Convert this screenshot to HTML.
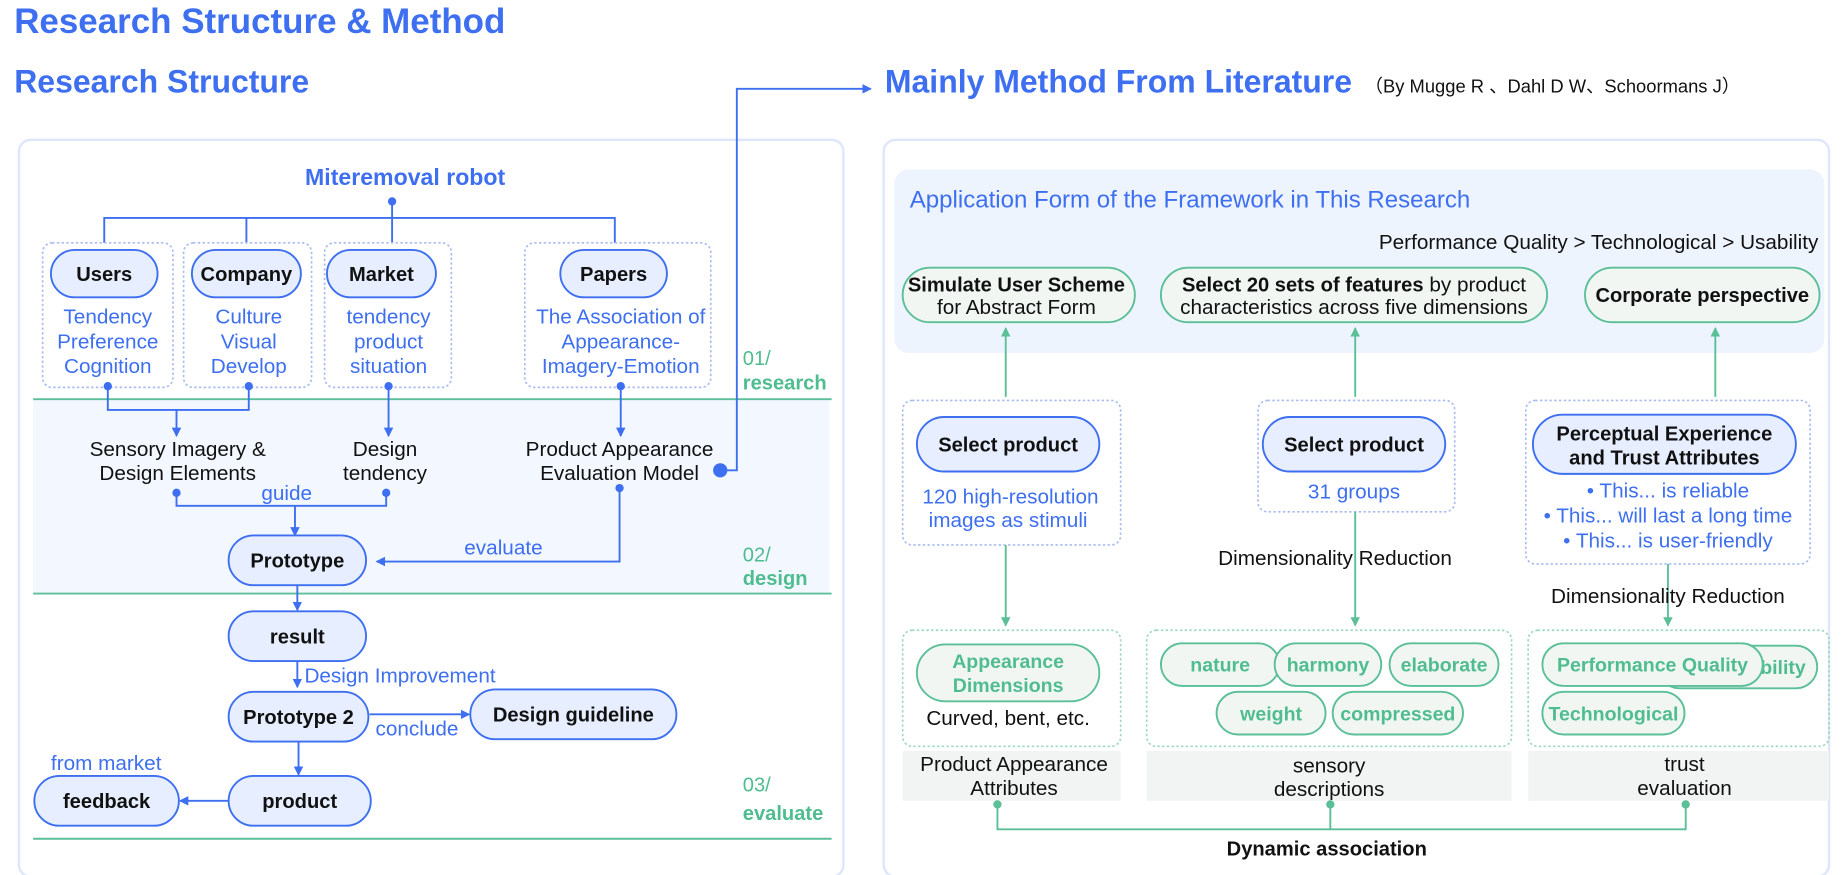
<!DOCTYPE html>
<html><head><meta charset="utf-8"><style>
html,body{margin:0;padding:0;background:#fff;}
svg{display:block;font-family:"Liberation Sans",sans-serif;}
.b{fill:#3d6ff0}.k{fill:#111}.g{fill:#4fbd8f}
.pb{fill:#e6eeff;stroke:#3d6ff0;stroke-width:1.6}
.pg{fill:#f1f6f3;stroke:#5bbf98;stroke-width:1.6}
.db{fill:none;stroke:#a9bcf2;stroke-width:1.4;stroke-dasharray:2 2}
.dg{fill:none;stroke:#9fd8c0;stroke-width:1.4;stroke-dasharray:2 2}
.lb{stroke:#3d6ff0;stroke-width:1.6;fill:none}
.lg{stroke:#5bbf98;stroke-width:1.6;fill:none}
</style></head><body>
<svg width="1848" height="875" viewBox="0 0 1560 738.6" preserveAspectRatio="none">
<defs>
<marker id="ab" markerWidth="8" markerHeight="8" refX="7" refY="4" orient="auto" markerUnits="userSpaceOnUse"><path d="M0,0 L8,4 L0,8 z" fill="#3d6ff0"/></marker>
<marker id="ag" markerWidth="8" markerHeight="8" refX="7" refY="4" orient="auto" markerUnits="userSpaceOnUse"><path d="M0,0 L8,4 L0,8 z" fill="#5bbf98"/></marker>
</defs>
<text x="12" y="28" class="b" font-size="29.5" font-weight="bold">Research Structure &amp; Method</text>
<text x="12" y="78" class="b" font-size="27" font-weight="bold">Research Structure</text>
<text x="747" y="78" class="b" font-size="27" font-weight="bold">Mainly Method From Literature</text>
<text x="1152" y="78" class="k" font-size="15.5">（By Mugge R 、Dahl D W、Schoormans J）</text>

<rect x="16" y="118" width="696" height="622" rx="10" fill="#fff" stroke="#dde6fa" stroke-width="2"/>
<rect x="746" y="118" width="798" height="622" rx="10" fill="#fff" stroke="#dde6fa" stroke-width="2"/>

<!-- left -->
<text x="342" y="156" text-anchor="middle" class="b" font-size="19.5" font-weight="bold">Miteremoval robot</text>
<circle cx="331" cy="170" r="3.5" fill="#3d6ff0"/>
<path class="lb" d="M331,170 V184 M88,205 V184 H519 V205 M208,184 V205 M331,184 V205"/>
<rect class="db" x="36" y="205" width="110" height="122" rx="8"/>
<rect class="db" x="155" y="205" width="108" height="122" rx="8"/>
<rect class="db" x="274" y="205" width="107" height="122" rx="8"/>
<rect class="db" x="443" y="205" width="157" height="122" rx="8"/>
<g font-size="17" font-weight="bold" text-anchor="middle" class="k">
<rect class="pb" x="43" y="211" width="90" height="40" rx="20"/><text x="88" y="237">Users</text>
<rect class="pb" x="162" y="211" width="92" height="40" rx="20"/><text x="208" y="237">Company</text>
<rect class="pb" x="276" y="211" width="92" height="40" rx="20"/><text x="322" y="237">Market</text>
<rect class="pb" x="473" y="211" width="90" height="40" rx="20"/><text x="518" y="237">Papers</text>
</g>
<g font-size="17.5" text-anchor="middle" class="b">
<text x="91" y="273">Tendency</text><text x="91" y="294">Preference</text><text x="91" y="315">Cognition</text>
<text x="210" y="273">Culture</text><text x="210" y="294">Visual</text><text x="210" y="315">Develop</text>
<text x="328" y="273">tendency</text><text x="328" y="294">product</text><text x="328" y="315">situation</text>
<text x="524" y="273">The Association of</text><text x="524" y="294">Appearance-</text><text x="524" y="315">Imagery-Emotion</text>
</g>
<rect x="28" y="337" width="672" height="163" fill="#f3f7ff"/>
<line x1="28" y1="337" x2="702" y2="337" stroke="#5bbf98" stroke-width="1.6"/>
<line x1="28" y1="501" x2="702" y2="501" stroke="#5bbf98" stroke-width="1.6"/>
<line x1="28" y1="708" x2="702" y2="708" stroke="#5bbf98" stroke-width="1.6"/>
<text x="627" y="308" class="g" font-size="17">01/</text><text x="627" y="329" class="g" font-size="17" font-weight="bold">research</text>
<text x="627" y="474" class="g" font-size="17">02/</text><text x="627" y="494" class="g" font-size="17" font-weight="bold">design</text>
<text x="627" y="668" class="g" font-size="17">03/</text><text x="627" y="692" class="g" font-size="17" font-weight="bold">evaluate</text>
<g fill="#3d6ff0"><circle cx="91" cy="326" r="3.5"/><circle cx="210" cy="326" r="3.5"/><circle cx="328" cy="326" r="3.5"/><circle cx="524" cy="326" r="3.5"/>
<circle cx="149" cy="416" r="3.5"/><circle cx="326" cy="416" r="3.5"/><circle cx="523" cy="412" r="3.5"/><circle cx="608" cy="397" r="6"/></g>
<path class="lb" d="M91,326 V346 H210 V326"/>
<path class="lb" d="M149,346 V368" marker-end="url(#ab)"/>
<path class="lb" d="M328,326 V368" marker-end="url(#ab)"/>
<path class="lb" d="M524,326 V368" marker-end="url(#ab)"/>
<g font-size="17.5" text-anchor="middle" class="k">
<text x="150" y="385">Sensory Imagery &amp;</text><text x="150" y="405">Design Elements</text>
<text x="325" y="385">Design</text><text x="325" y="405">tendency</text>
<text x="523" y="385">Product Appearance</text><text x="523" y="405">Evaluation Model</text>
</g>
<path class="lb" d="M608,397 H622 V75 H735" marker-end="url(#ab)"/>
<path class="lb" d="M149,416 V427 H326 V416"/>
<text x="242" y="422" text-anchor="middle" class="b" font-size="17.5">guide</text>
<path class="lb" d="M249,427 V452" marker-end="url(#ab)"/>
<path class="lb" d="M523,412 V474 H318" marker-end="url(#ab)"/>
<text x="425" y="468" text-anchor="middle" class="b" font-size="17.5">evaluate</text>
<g font-size="17" font-weight="bold" text-anchor="middle" class="k">
<rect class="pb" x="193" y="452" width="116" height="42" rx="21"/><text x="251" y="479">Prototype</text>
<rect class="pb" x="193" y="516" width="116" height="42" rx="21"/><text x="251" y="543">result</text>
<rect class="pb" x="193" y="584" width="118" height="42" rx="21"/><text x="252" y="611">Prototype 2</text>
<rect class="pb" x="397" y="582" width="174" height="42" rx="21"/><text x="484" y="609">Design guideline</text>
<rect class="pb" x="193" y="655" width="120" height="42" rx="21"/><text x="253" y="682">product</text>
<rect class="pb" x="29" y="655" width="122" height="42" rx="21"/><text x="90" y="682">feedback</text>
</g>
<path class="lb" d="M251,494 V515" marker-end="url(#ab)"/>
<path class="lb" d="M251,558 V580" marker-end="url(#ab)"/>
<text x="257" y="576" class="b" font-size="17.5">Design Improvement</text>
<path class="lb" d="M312,603 H396" marker-end="url(#ab)"/>
<text x="352" y="621" text-anchor="middle" class="b" font-size="17.5">conclude</text>
<path class="lb" d="M252,626 V654" marker-end="url(#ab)"/>
<path class="lb" d="M193,676 H152" marker-end="url(#ab)"/>
<text x="43" y="650" class="b" font-size="17.5">from market</text>

<!-- right -->
<rect x="755" y="143" width="785" height="155" rx="12" fill="#eef4fd"/>
<text x="768" y="175" class="b" font-size="20.3">Application Form of the Framework in This Research</text>
<text x="1535" y="210" text-anchor="end" class="k" font-size="17.5">Performance Quality &gt; Technological &gt; Usability</text>
<rect class="pg" x="762" y="226" width="196" height="46" rx="23"/>
<text x="858" y="246" text-anchor="middle" class="k" font-size="17" font-weight="bold">Simulate User Scheme</text>
<text x="858" y="265" text-anchor="middle" class="k" font-size="17.5">for Abstract Form</text>
<rect class="pg" x="980" y="226" width="326" height="46" rx="23"/>
<text x="1143" y="246" text-anchor="middle" class="k" font-size="17.5"><tspan font-weight="bold" font-size="17">Select 20 sets of features</tspan> by product</text>
<text x="1143" y="265" text-anchor="middle" class="k" font-size="17.5">characteristics across five dimensions</text>
<rect class="pg" x="1338" y="226" width="198" height="46" rx="23"/>
<text x="1437" y="255" text-anchor="middle" class="k" font-size="17" font-weight="bold">Corporate perspective</text>
<path class="lg" d="M849,335 V277" marker-end="url(#ag)"/>
<path class="lg" d="M1144,335 V277" marker-end="url(#ag)"/>
<path class="lg" d="M1448,335 V277" marker-end="url(#ag)"/>
<rect class="db" x="762" y="338" width="184" height="122" rx="8"/>
<rect class="db" x="1062" y="338" width="166" height="94" rx="8"/>
<rect class="db" x="1288" y="338" width="240" height="138" rx="8"/>
<rect class="pb" x="774" y="352" width="154" height="46" rx="23"/>
<text x="851" y="381" text-anchor="middle" class="k" font-size="17" font-weight="bold">Select product</text>
<rect class="pb" x="1066" y="352" width="154" height="46" rx="23"/>
<text x="1143" y="381" text-anchor="middle" class="k" font-size="17" font-weight="bold">Select product</text>
<rect class="pb" x="1294" y="350" width="222" height="50" rx="25"/>
<text x="1405" y="372" text-anchor="middle" class="k" font-size="17" font-weight="bold">Perceptual Experience</text>
<text x="1405" y="392" text-anchor="middle" class="k" font-size="17" font-weight="bold">and Trust Attributes</text>
<g font-size="17.5" text-anchor="middle" class="b">
<text x="853" y="425">120 high-resolution</text><text x="851" y="445">images as stimuli</text>
<text x="1143" y="421">31 groups</text>
<text x="1408" y="420">• This... is reliable</text><text x="1408" y="441">• This... will last a long time</text><text x="1408" y="462">• This... is user-friendly</text>
</g>
<path class="lg" d="M849,460 V528" marker-end="url(#ag)"/>
<path class="lg" d="M1144,432 V528" marker-end="url(#ag)"/>
<path class="lg" d="M1408,476 V528" marker-end="url(#ag)"/>
<text x="1127" y="477" text-anchor="middle" class="k" font-size="17.5">Dimensionality Reduction</text>
<text x="1408" y="509" text-anchor="middle" class="k" font-size="17.5">Dimensionality Reduction</text>
<rect class="dg" x="762" y="532" width="184" height="98" rx="8"/>
<rect class="dg" x="968" y="532" width="308" height="98" rx="8"/>
<rect class="dg" x="1290" y="532" width="254" height="98" rx="8"/>
<g font-size="16.5" font-weight="bold" text-anchor="middle" class="g">
<rect class="pg" x="774" y="544" width="154" height="48" rx="24" fill="#f4faf7"/>
<text x="851" y="564">Appearance</text><text x="851" y="584">Dimensions</text>
<rect class="pg" x="980" y="543" width="100" height="36" rx="18"/><text x="1030" y="567">nature</text>
<rect class="pg" x="1076" y="543" width="90" height="36" rx="18"/><text x="1121" y="567">harmony</text>
<rect class="pg" x="1173" y="543" width="92" height="36" rx="18"/><text x="1219" y="567">elaborate</text>
<rect class="pg" x="1027" y="584" width="92" height="36" rx="18"/><text x="1073" y="608">weight</text>
<rect class="pg" x="1125" y="584" width="110" height="36" rx="18"/><text x="1180" y="608">compressed</text>
<rect class="pg" x="1400" y="545" width="134" height="36" rx="18"/><text x="1490" y="569">Usability</text>
<rect class="pg" x="1302" y="543" width="186" height="36" rx="18"/><text x="1395" y="567">Performance Quality</text>
<rect class="pg" x="1302" y="584" width="120" height="36" rx="18"/><text x="1362" y="608">Technological</text>
</g>
<text x="851" y="612" text-anchor="middle" class="k" font-size="17.5">Curved, bent, etc.</text>
<rect x="762" y="634" width="184" height="42" fill="#f1f4f3"/>
<rect x="968" y="634" width="308" height="42" fill="#f1f4f3"/>
<rect x="1290" y="634" width="254" height="42" fill="#f1f4f3"/>
<g font-size="17.5" text-anchor="middle" class="k">
<text x="856" y="651">Product Appearance</text><text x="856" y="671">Attributes</text>
<text x="1122" y="652">sensory</text><text x="1122" y="672">descriptions</text>
<text x="1422" y="651">trust</text><text x="1422" y="671">evaluation</text>
</g>
<g fill="#5bbf98"><circle cx="842" cy="679" r="3.5"/><circle cx="1123" cy="679" r="3.5"/><circle cx="1423" cy="679" r="3.5"/></g>
<path class="lg" d="M842,679 V700 H1423 V679 M1123,679 V700"/>
<text x="1120" y="722" text-anchor="middle" class="k" font-size="17" font-weight="bold">Dynamic association</text>
</svg>
</body></html>
